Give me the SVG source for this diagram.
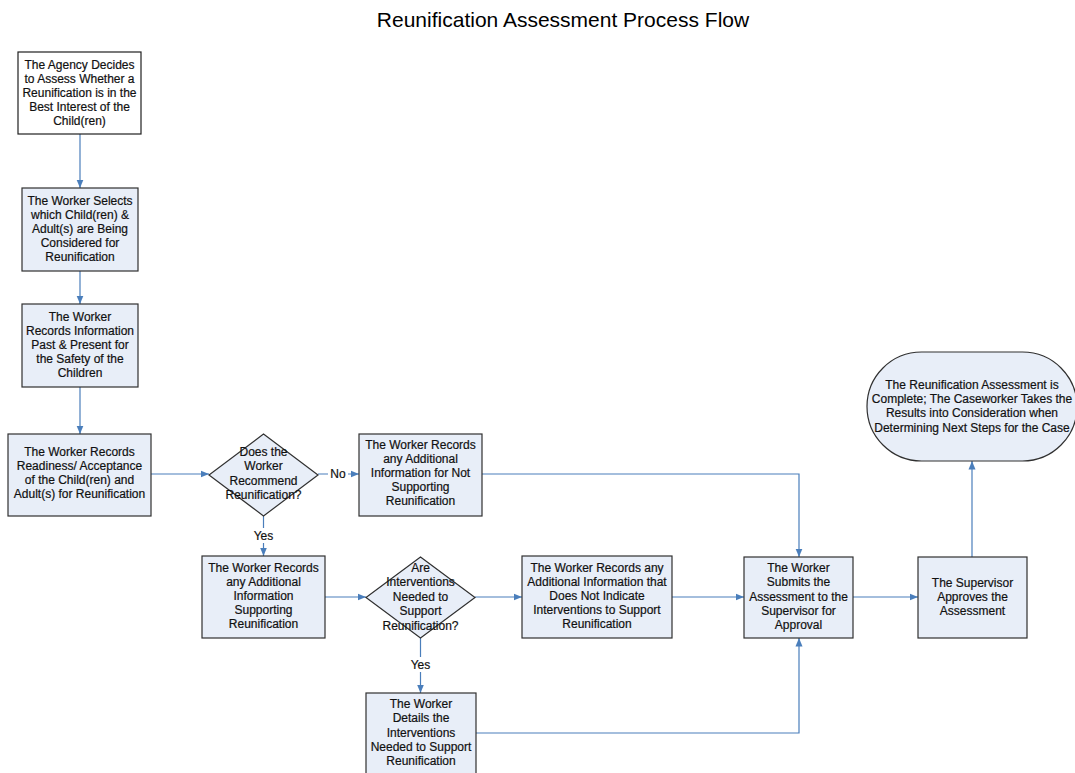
<svg xmlns="http://www.w3.org/2000/svg" width="1075" height="773" viewBox="0 0 1075 773">
  <style>
    .box { fill: #e8eef8; stroke: #303030; stroke-width: 1.2; }
    .start { fill: #ffffff; stroke: #202020; stroke-width: 1.2; }
    .t { font-family: "Liberation Sans", Arial, sans-serif; font-size: 12px; fill: #111; stroke: #111; stroke-width: 0.2; text-anchor: middle; }
    .title { font-family: "Liberation Sans", Arial, sans-serif; font-size: 21px; fill: #000; text-anchor: middle; }
    .conn { fill: none; stroke: #4a7ebb; stroke-width: 1.2; marker-end: url(#arrow); }
    .lbl { fill: #ffffff; }
  </style>
  <defs>
    <marker id="arrow" markerWidth="9" markerHeight="8" refX="8.5" refY="4" orient="auto" markerUnits="userSpaceOnUse">
      <path d="M0,0.5 L8.5,4 L0,7.5 z" fill="#4a7ebb"/>
    </marker>
  </defs>
  <rect width="1075" height="773" fill="#ffffff"/>

  <text class="title" x="563" y="27">Reunification Assessment Process Flow</text>

  <!-- connectors -->
  <g id="connectors">
    <path class="conn" d="M80,134 L80,188"/>
    <path class="conn" d="M80,271 L80,304"/>
    <path class="conn" d="M80,387 L80,434"/>
    <path class="conn" d="M151,474 L209,474"/>
    <path class="conn" d="M318,474 L359,474"/>
    <path class="conn" d="M263.5,516 L263.5,556"/>
    <path class="conn" d="M482,474 L799,474 L799,557"/>
    <path class="conn" d="M325,597 L366,597"/>
    <path class="conn" d="M475,597 L522,597"/>
    <path class="conn" d="M420.5,638 L420.5,693"/>
    <path class="conn" d="M476,733 L799,733 L799,638"/>
    <path class="conn" d="M672,597 L744,597"/>
    <path class="conn" d="M853,597 L918,597"/>
    <path class="conn" d="M972,557 L972,461"/>
    <!-- branch labels -->
    <rect class="lbl" x="328" y="466" width="20" height="15"/>
    <text class="t" x="338" y="478">No</text>
    <rect class="lbl" x="251" y="528" width="25" height="15"/>
    <text class="t" x="263.5" y="540">Yes</text>
    <rect class="lbl" x="408" y="657" width="25" height="15"/>
    <text class="t" x="420.5" y="669">Yes</text>
  </g>

  <g id="agency-decides">
    <rect class="start" x="18" y="52" width="123" height="82"/>
    <text class="t" x="79.5" y="69">The Agency Decides</text>
    <text class="t" x="79.5" y="83">to Assess Whether a</text>
    <text class="t" x="79.5" y="97">Reunification is in the</text>
    <text class="t" x="79.5" y="111">Best Interest of the</text>
    <text class="t" x="79.5" y="125">Child(ren)</text>
  </g>

  <g id="worker-selects">
    <rect class="box" x="22" y="188" width="116" height="83"/>
    <text class="t" x="80" y="205">The Worker Selects</text>
    <text class="t" x="80" y="219">which Child(ren) &amp;</text>
    <text class="t" x="80" y="233">Adult(s) are Being</text>
    <text class="t" x="80" y="247">Considered for</text>
    <text class="t" x="80" y="261">Reunification</text>
  </g>

  <g id="records-safety">
    <rect class="box" x="22" y="304" width="116" height="83"/>
    <text class="t" x="80" y="321">The Worker</text>
    <text class="t" x="80" y="335">Records Information</text>
    <text class="t" x="80" y="349">Past &amp; Present for</text>
    <text class="t" x="80" y="363">the Safety of the</text>
    <text class="t" x="80" y="377">Children</text>
  </g>

  <g id="records-readiness">
    <rect class="box" x="8" y="434" width="143" height="82"/>
    <text class="t" x="79.5" y="456">The Worker Records</text>
    <text class="t" x="79.5" y="470">Readiness/ Acceptance</text>
    <text class="t" x="79.5" y="484">of the Child(ren) and</text>
    <text class="t" x="79.5" y="498">Adult(s) for Reunification</text>
  </g>

  <g id="decision-recommend">
    <polygon class="box" points="263.5,434 318,475 263.5,516 209,475"/>
    <text class="t" x="263.5" y="456">Does the</text>
    <text class="t" x="263.5" y="470">Worker</text>
    <text class="t" x="263.5" y="485">Recommend</text>
    <text class="t" x="263.5" y="499">Reunification?</text>
  </g>

  <g id="records-not-supporting">
    <rect class="box" x="359" y="434" width="123" height="82"/>
    <text class="t" x="420.5" y="449">The Worker Records</text>
    <text class="t" x="420.5" y="463">any Additional</text>
    <text class="t" x="420.5" y="477">Information for Not</text>
    <text class="t" x="420.5" y="491">Supporting</text>
    <text class="t" x="420.5" y="505">Reunification</text>
  </g>

  <g id="records-supporting">
    <rect class="box" x="202" y="556" width="123" height="82"/>
    <text class="t" x="263.5" y="572">The Worker Records</text>
    <text class="t" x="263.5" y="586">any Additional</text>
    <text class="t" x="263.5" y="600">Information</text>
    <text class="t" x="263.5" y="614">Supporting</text>
    <text class="t" x="263.5" y="628">Reunification</text>
  </g>

  <g id="decision-interventions">
    <polygon class="box" points="420.5,557 475,597.5 420.5,638 366,597.5"/>
    <text class="t" x="420.5" y="572">Are</text>
    <text class="t" x="420.5" y="586">Interventions</text>
    <text class="t" x="420.5" y="601">Needed to</text>
    <text class="t" x="420.5" y="615">Support</text>
    <text class="t" x="420.5" y="630">Reunification?</text>
  </g>

  <g id="records-no-interventions">
    <rect class="box" x="522" y="556" width="150" height="82"/>
    <text class="t" x="597" y="572">The Worker Records any</text>
    <text class="t" x="597" y="586">Additional Information that</text>
    <text class="t" x="597" y="600">Does Not Indicate</text>
    <text class="t" x="597" y="614">Interventions to Support</text>
    <text class="t" x="597" y="628">Reunification</text>
  </g>

  <g id="details-interventions">
    <rect class="box" x="366" y="693" width="110" height="83"/>
    <text class="t" x="421" y="708">The Worker</text>
    <text class="t" x="421" y="722">Details the</text>
    <text class="t" x="421" y="737">Interventions</text>
    <text class="t" x="421" y="751">Needed to Support</text>
    <text class="t" x="421" y="765">Reunification</text>
  </g>

  <g id="submits-assessment">
    <rect class="box" x="744" y="557" width="109" height="81"/>
    <text class="t" x="798.5" y="572">The Worker</text>
    <text class="t" x="798.5" y="586">Submits the</text>
    <text class="t" x="798.5" y="601">Assessment to the</text>
    <text class="t" x="798.5" y="615">Supervisor for</text>
    <text class="t" x="798.5" y="629">Approval</text>
  </g>

  <g id="supervisor-approves">
    <rect class="box" x="918" y="557" width="109" height="81"/>
    <text class="t" x="972.5" y="587">The Supervisor</text>
    <text class="t" x="972.5" y="601">Approves the</text>
    <text class="t" x="972.5" y="615">Assessment</text>
  </g>

  <g id="assessment-complete">
    <rect class="box" x="867" y="352" width="210" height="109" rx="54.5" ry="54.5"/>
    <text class="t" x="972" y="389">The Reunification Assessment is</text>
    <text class="t" x="972" y="403">Complete; The Caseworker Takes the</text>
    <text class="t" x="972" y="417">Results into Consideration when</text>
    <text class="t" x="972" y="432">Determining Next Steps for the Case</text>
  </g>
</svg>
